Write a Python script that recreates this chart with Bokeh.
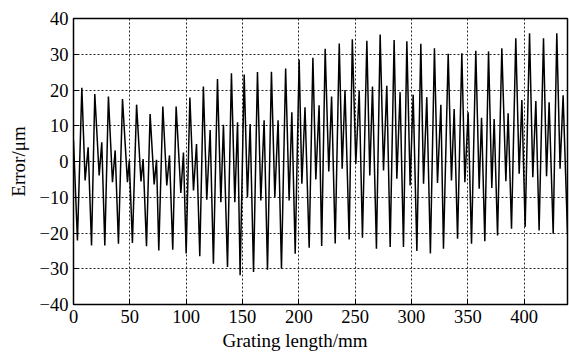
from bokeh.plotting import figure
from bokeh.models import Range1d, FixedTicker, Title
from bokeh.embed import file_html
from bokeh.resources import INLINE

# ---- data (extrema of the error trace) ----
start_x = 0.0
start_y = 5.9

deep_x = [3.5, 16.0, 27.8, 39.9, 52.3, 64.8, 75.7, 88.1, 100.0, 112.1, 124.2, 136.7, 147.9,
          159.8, 172.2, 184.6, 196.8, 209.2, 220.3, 232.3, 244.7, 256.5, 268.9, 281.1, 292.9,
          304.8, 316.8, 328.4, 340.9, 353.3, 365.1, 376.4, 388.8, 400.9, 413.3, 425.8, 438.5]
deep_y = [-22.1, -23.5, -23.5, -23.0, -22.8, -23.7, -24.9, -24.7, -25.7, -26.5, -28.6, -29.5, -31.8,
          -30.9, -30.3, -30.0, -25.8, -24.1, -23.6, -22.9, -21.8, -21.3, -24.4, -23.9, -23.9,
          -25.0, -25.7, -24.4, -21.6, -23.0, -22.3, -20.7, -18.8, -18.3, -19.3, -20.2, -20.2]

peak_x = [7.4, 18.9, 31.0, 43.5, 56.0, 68.0, 79.3, 91.1, 103.3, 115.3, 127.8, 140.2, 151.5,
          163.3, 175.7, 188.3, 200.3, 212.5, 223.4, 235.9, 247.5, 260.4, 272.2, 284.6, 295.9,
          308.3, 320.4, 332.6, 344.7, 357.1, 368.4, 380.2, 392.6, 404.8, 417.2, 429.0]
peak_y = [20.6, 18.9, 18.2, 17.5, 15.9, 13.3, 15.4, 15.4, 17.9, 21.0, 23.1, 24.7, 24.3,
          25.0, 25.1, 26.0, 28.5, 29.0, 31.5, 33.0, 34.2, 33.8, 35.5, 34.0, 33.6,
          32.9, 31.7, 30.1, 30.3, 31.0, 30.8, 31.7, 34.5, 35.9, 34.5, 35.9]

shal_x = [10.3, 22.8, 34.6, 47.9, 59.9, 71.6, 82.8, 95.3, 106.5, 118.3, 130.8, 143.2, 154.4,
          166.3, 178.7, 191.4, 202.7, 215.1, 226.6, 238.5, 250.6, 263.0, 275.2, 287.0, 298.8,
          310.7, 323.1, 335.5, 347.4, 360.1, 371.3, 383.8, 395.6, 407.7, 419.9, 431.9]
shal_y = [-5.3, -3.9, -5.8, -5.8, -5.6, -6.4, -6.7, -8.8, -8.1, -10.7, -11.4, -11.4, -10.0,
          -10.9, -10.0, -10.9, -6.2, -5.0, -2.8, -2.0, -0.7, -3.9, -2.5, -4.8, -6.7,
          -6.2, -6.0, -5.3, -5.8, -7.6, -7.4, -5.5, -3.4, -4.4, -4.1, -2.0]

sec_x = [13.0, 25.1, 37.0, 49.5, 61.8, 73.7, 85.2, 97.6, 109.2, 121.3, 133.1, 145.6, 156.8,
         169.2, 181.6, 193.8, 205.5, 218.0, 229.1, 241.0, 253.6, 265.4, 278.1, 289.9, 301.5,
         313.6, 326.1, 337.9, 350.3, 362.2, 373.4, 385.8, 398.0, 410.4, 422.2, 434.6]
sec_y = [4.0, 5.4, 3.1, 0.3, 0.7, 0.5, 1.7, 2.5, 4.9, 8.8, 10.3, 11.0, 10.5,
         11.5, 11.5, 13.8, 15.2, 15.7, 18.2, 20.0, 19.8, 21.0, 21.2, 19.4, 18.7,
         18.0, 15.9, 14.7, 13.8, 12.2, 11.9, 13.5, 17.2, 16.9, 16.6, 18.5]

x_ticks = [0, 50, 100, 150, 200, 250, 300, 350, 400]
y_ticks = [-40, -30, -20, -10, 0, 10, 20, 30, 40]
x_title = "Grating length/mm"
y_title = "Error/\u03bcm"

# ---- assemble trace in order ----
xs = [start_x]
ys = [start_y]
for i in range(len(peak_x)):
    xs += [deep_x[i], peak_x[i], shal_x[i], sec_x[i]]
    ys += [deep_y[i], peak_y[i], shal_y[i], sec_y[i]]
xs.append(deep_x[-1])
ys.append(deep_y[-1])

FONT = "Liberation Serif"

p = figure(width=569, height=356, output_backend="svg", toolbar_location=None,
           x_range=Range1d(0, 438.5), y_range=Range1d(-40, 40),
           min_border_left=73, min_border_right=2, min_border_top=18, min_border_bottom=52)
p.background_fill_color = "white"
p.border_fill_color = "white"
p.outline_line_color = "black"
p.outline_line_width = 1.5

p.line(xs, ys, line_color="black", line_width=1.5)

for ax, ticks in ((p.xaxis, x_ticks), (p.yaxis, y_ticks)):
    ax.ticker = FixedTicker(ticks=ticks)
    ax.axis_line_color = None
    ax.major_tick_in = 5
    ax.major_tick_out = 0
    ax.minor_tick_line_color = None
    ax.major_tick_line_color = "black"
    ax.major_label_text_font = FONT
    ax.major_label_text_font_size = "18.5px"
    ax.major_label_text_color = "black"

p.xaxis.major_label_standoff = 5

p.yaxis.axis_label = y_title
p.yaxis.axis_label_text_font = FONT
p.yaxis.axis_label_text_font_size = "19px"
p.yaxis.axis_label_text_font_style = "normal"
p.yaxis.axis_label_text_color = "black"
p.yaxis.axis_label_standoff = 8

for g in (p.xgrid, p.ygrid):
    g.grid_line_color = "black"
    g.grid_line_dash = "2 2"
    g.grid_line_width = 1
    g.grid_line_alpha = 0.85

p.add_layout(Title(text=x_title, align="left", offset=149, standoff=5,
                   text_font=FONT, text_font_size="19px", text_font_style="normal",
                   text_color="black"), "below")

open("out.html", "w").write(file_html(p, INLINE))
